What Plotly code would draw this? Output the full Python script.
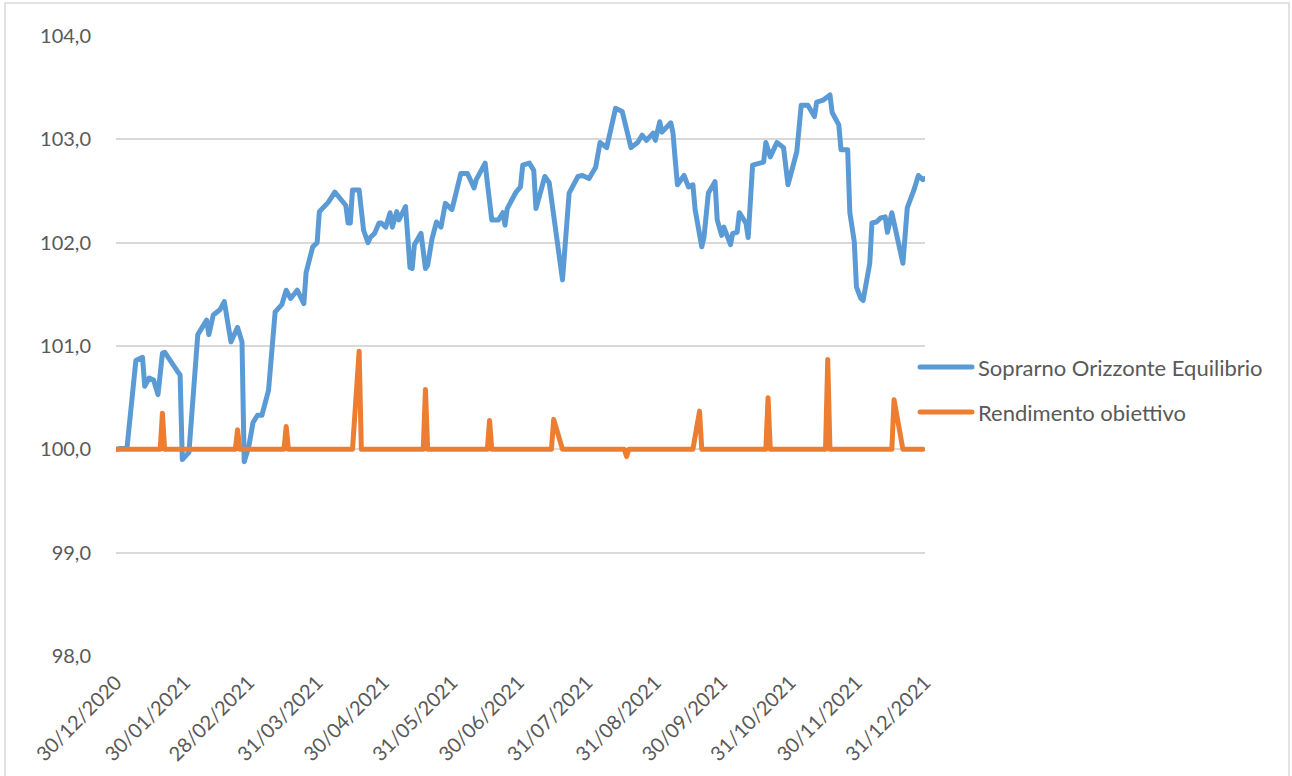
import plotly.graph_objects as go

# ---- data ----
series_blue_name = "Soprarno Orizzonte Equilibrio"
series_orange_name = "Rendimento obiettivo"

blue_dates = [
    "2020-12-30", "2021-01-04", "2021-01-08", "2021-01-11", "2021-01-12", "2021-01-14",
    "2021-01-16", "2021-01-18", "2021-01-20", "2021-01-21", "2021-01-27", "2021-01-28",
    "2021-01-29", "2021-02-01", "2021-02-05", "2021-02-09", "2021-02-10", "2021-02-12",
    "2021-02-15", "2021-02-17", "2021-02-20", "2021-02-23", "2021-02-25", "2021-02-26",
    "2021-02-28", "2021-03-02", "2021-03-04", "2021-03-06", "2021-03-09", "2021-03-11",
    "2021-03-12", "2021-03-15", "2021-03-17", "2021-03-19", "2021-03-22", "2021-03-25",
    "2021-03-26", "2021-03-29", "2021-03-31", "2021-04-01", "2021-04-05", "2021-04-08",
    "2021-04-11", "2021-04-13", "2021-04-14", "2021-04-15", "2021-04-16", "2021-04-19",
    "2021-04-21", "2021-04-23", "2021-04-24", "2021-04-26", "2021-04-28", "2021-04-29",
    "2021-05-01", "2021-05-03", "2021-05-04", "2021-05-06", "2021-05-07", "2021-05-10",
    "2021-05-12", "2021-05-13", "2021-05-14", "2021-05-17", "2021-05-19", "2021-05-20",
    "2021-05-22", "2021-05-24", "2021-05-26", "2021-05-28", "2021-05-31", "2021-06-04",
    "2021-06-07", "2021-06-09", "2021-06-10", "2021-06-11", "2021-06-15", "2021-06-16",
    "2021-06-18", "2021-06-21", "2021-06-23", "2021-06-24", "2021-06-25", "2021-06-29",
    "2021-07-01", "2021-07-02", "2021-07-05", "2021-07-07", "2021-07-08", "2021-07-12",
    "2021-07-14", "2021-07-20", "2021-07-23", "2021-07-27", "2021-07-29", "2021-08-01",
    "2021-08-04", "2021-08-06", "2021-08-09", "2021-08-13", "2021-08-16", "2021-08-20",
    "2021-08-23", "2021-08-25", "2021-08-27", "2021-08-30", "2021-08-31", "2021-09-02",
    "2021-09-03", "2021-09-07", "2021-09-08", "2021-09-09", "2021-09-10", "2021-09-13",
    "2021-09-15", "2021-09-17", "2021-09-18", "2021-09-21", "2021-09-22", "2021-09-24",
    "2021-09-27", "2021-09-28", "2021-09-30", "2021-10-01", "2021-10-04", "2021-10-05",
    "2021-10-07", "2021-10-08", "2021-10-11", "2021-10-12", "2021-10-14", "2021-10-19",
    "2021-10-20", "2021-10-22", "2021-10-25", "2021-10-28", "2021-10-30", "2021-11-02",
    "2021-11-03", "2021-11-05", "2021-11-08", "2021-11-11", "2021-11-12", "2021-11-15",
    "2021-11-18", "2021-11-19", "2021-11-22", "2021-11-23", "2021-11-26", "2021-11-27",
    "2021-11-29", "2021-11-30", "2021-12-02", "2021-12-03", "2021-12-06", "2021-12-07",
    "2021-12-09", "2021-12-11", "2021-12-13", "2021-12-14", "2021-12-16", "2021-12-21",
    "2021-12-23", "2021-12-26", "2021-12-28", "2021-12-30", "2021-12-31",
]
blue_values = [
    100.00, 100.02, 100.86, 100.89, 100.61, 100.69,
    100.67, 100.53, 100.93, 100.94, 100.75, 100.72,
    99.90, 99.97, 101.11, 101.25, 101.11, 101.30,
    101.35, 101.43, 101.04, 101.18, 101.04, 99.88,
    100.02, 100.26, 100.33, 100.33, 100.57, 101.13,
    101.33, 101.40, 101.54, 101.46, 101.54, 101.41,
    101.71, 101.96, 102.00, 102.30, 102.39, 102.49,
    102.41, 102.36, 102.19, 102.19, 102.51, 102.51,
    102.12, 102.00, 102.05, 102.09, 102.19, 102.19,
    102.15, 102.29, 102.15, 102.30, 102.22, 102.35,
    101.76, 101.75, 101.98, 102.09, 101.75, 101.78,
    102.04, 102.20, 102.15, 102.38, 102.32, 102.67,
    102.67, 102.56, 102.53, 102.61, 102.77, 102.58,
    102.22, 102.22, 102.29, 102.17, 102.33, 102.49,
    102.54, 102.75, 102.77, 102.70, 102.33, 102.64,
    102.58, 101.64, 102.48, 102.64, 102.65, 102.62,
    102.73, 102.97, 102.92, 103.30, 103.27, 102.92,
    102.97, 103.04, 102.99, 103.06, 102.99, 103.17,
    103.07, 103.16, 103.06, 102.80, 102.56, 102.65,
    102.54, 102.56, 102.32, 101.96, 102.05, 102.48,
    102.59, 102.22, 102.07, 102.15, 101.98, 102.09,
    102.10, 102.29, 102.19, 102.05, 102.75, 102.78,
    102.97, 102.83, 102.97, 102.92, 102.56, 102.80,
    102.88, 103.33, 103.33, 103.22, 103.36, 103.38,
    103.43, 103.26, 103.14, 102.90, 102.90, 102.29,
    102.01, 101.57, 101.46, 101.44, 101.80, 102.19,
    102.20, 102.24, 102.25, 102.10, 102.29, 101.80,
    102.34, 102.51, 102.65, 102.61, 102.62,
]

orange_dates = [
    "2020-12-30",
    "2021-01-19", "2021-01-20", "2021-01-21",
    "2021-02-22", "2021-02-23", "2021-02-24",
    "2021-03-16", "2021-03-17", "2021-03-18",
    "2021-04-16", "2021-04-19", "2021-04-20",
    "2021-05-18", "2021-05-19", "2021-05-20",
    "2021-06-16", "2021-06-17", "2021-06-18",
    "2021-07-15", "2021-07-16", "2021-07-20",
    "2021-08-17", "2021-08-18", "2021-08-19",
    "2021-09-17", "2021-09-20", "2021-09-21",
    "2021-10-20", "2021-10-21", "2021-10-22",
    "2021-11-16", "2021-11-17", "2021-11-18",
    "2021-12-16", "2021-12-17", "2021-12-21",
    "2021-12-30",
]
orange_values = [
    100.0,
    100.0, 100.35, 100.0,
    100.0, 100.19, 100.0,
    100.0, 100.22, 100.0,
    100.0, 100.95, 100.0,
    100.0, 100.58, 100.0,
    100.0, 100.28, 100.0,
    100.0, 100.29, 100.0,
    100.0, 99.93, 100.0,
    100.0, 100.37, 100.0,
    100.0, 100.50, 100.0,
    100.0, 100.87, 100.0,
    100.0, 100.48, 100.0,
    100.0,
]

x_tick_dates = [
    "2020-12-30", "2021-01-30", "2021-02-28", "2021-03-31", "2021-04-30",
    "2021-05-31", "2021-06-30", "2021-07-31", "2021-08-31", "2021-09-30",
    "2021-10-31", "2021-11-30", "2021-12-31",
]
x_tick_labels = [
    "30/12/2020", "30/01/2021", "28/02/2021", "31/03/2021", "30/04/2021",
    "31/05/2021", "30/06/2021", "31/07/2021", "31/08/2021", "30/09/2021",
    "31/10/2021", "30/11/2021", "31/12/2021",
]
y_tick_values = [98.0, 99.0, 100.0, 101.0, 102.0, 103.0, 104.0]
y_tick_labels = ["98,0", "99,0", "100,0", "101,0", "102,0", "103,0", "104,0"]

# ---- styling ----
BLUE = "#5B9BD5"
ORANGE = "#ED7D31"
TEXT = "#595959"
GRID = "#D9D9D9"
FONT = "Lato, 'Open Sans', sans-serif"
LW = 5

fig = go.Figure()
fig.add_trace(go.Scatter(
    x=blue_dates, y=blue_values, mode="lines", name=series_blue_name,
    line=dict(color=BLUE, width=LW), showlegend=False, hoverinfo="skip",
))
fig.add_trace(go.Scatter(
    x=orange_dates, y=orange_values, mode="lines", name=series_orange_name,
    line=dict(color=ORANGE, width=LW), showlegend=False, hoverinfo="skip",
))

W, H = 1292, 776
L, R, T, B = 116, 367, 36, 120
pw, ph = W - L - R, H - T - B


def px_x(x):
    return (x - L) / pw


def px_y(y):
    return (H - B - y) / ph


shapes = [
    # chart border
    dict(type="rect", xref="paper", yref="paper",
         x0=px_x(5), x1=px_x(1289), y0=px_y(800), y1=px_y(3),
         line=dict(color=GRID, width=1.5), fillcolor="rgba(0,0,0,0)", layer="below"),
    # legend keys
    dict(type="line", xref="paper", yref="paper",
         x0=px_x(920), x1=px_x(972), y0=px_y(367), y1=px_y(367),
         line=dict(color=BLUE, width=LW)),
    dict(type="line", xref="paper", yref="paper",
         x0=px_x(920), x1=px_x(972), y0=px_y(412), y1=px_y(412),
         line=dict(color=ORANGE, width=LW)),
]
annotations = [
    dict(text=series_blue_name, xref="paper", yref="paper", x=px_x(976), y=px_y(367),
         xanchor="left", yanchor="middle", showarrow=False,
         font=dict(family=FONT, size=22, color=TEXT)),
    dict(text=series_orange_name, xref="paper", yref="paper", x=px_x(976), y=px_y(412),
         xanchor="left", yanchor="middle", showarrow=False,
         font=dict(family=FONT, size=22, color=TEXT)),
]

fig.update_layout(
    width=W, height=H,
    margin=dict(l=L, r=R, t=T, b=B, pad=0),
    paper_bgcolor="white", plot_bgcolor="white",
    font=dict(family=FONT, size=20, color=TEXT),
    showlegend=False, hovermode=False,
    shapes=shapes, annotations=annotations,
    xaxis=dict(
        type="date", range=["2020-12-30", "2021-12-31"],
        tickmode="array", tickvals=x_tick_dates, ticktext=x_tick_labels,
        tickangle=-45, showgrid=False, zeroline=False, showline=False,
        ticks="", ticklabelstandoff=10,
        tickfont=dict(family=FONT, size=20, color=TEXT),
    ),
    yaxis=dict(
        range=[98, 104], tickmode="array", tickvals=y_tick_values, ticktext=y_tick_labels,
        showgrid=True, gridcolor=GRID, gridwidth=1.5, zeroline=False, showline=False,
        ticks="", ticklabelstandoff=24,
        tickfont=dict(family=FONT, size=20, color=TEXT),
    ),
)

post = (
    "document.body.style.margin='0';document.body.style.overflow='hidden';"
    "document.querySelectorAll('.js-line, .shapelayer path').forEach(function(p){"
    "p.style.strokeLinejoin='round';p.style.strokeLinecap='round';});"
)
fig.write_html("out.html", config={"displayModeBar": False}, post_script=post)
